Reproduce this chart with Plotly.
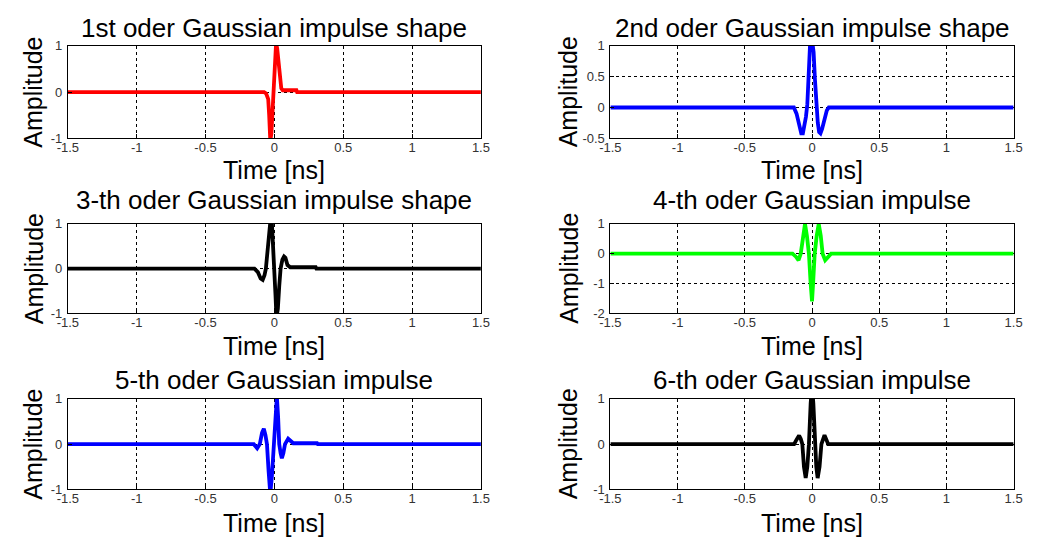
import plotly.graph_objects as go

# ---- data ----
titles = ["1st oder Gaussian impulse shape", "2nd oder Gaussian impulse shape",
          "3-th oder Gaussian impulse shape", "4-th oder Gaussian impulse",
          "5-th oder Gaussian impulse", "6-th oder Gaussian impulse"]
x_ticks = [-1.5, -1, -0.5, 0, 0.5, 1, 1.5]
x_ticklabels = ["-1.5", "-1", "-0.5", "0", "0.5", "1", "1.5"]

t1 = [-1.5, -0.075, -0.06, -0.045, -0.038, -0.03, -0.022, -0.012, -0.005, 0.005, 0.012, 0.02, 0.03, 0.04, 0.05, 0.06, 0.16, 0.165, 1.5]
a1 = [0, 0, -0.03, -0.15, -0.5, -1.05, -0.9, -0.3, 0.2, 0.85, 1.05, 0.95, 0.6, 0.25, 0.08, 0.04, 0.04, 0, 0]

t2 = [-1.5, -0.135, -0.115, -0.095, -0.08, -0.068, -0.055, -0.045, -0.035, -0.025, -0.015, 0.0, 0.012, 0.022, 0.033, 0.043, 0.053, 0.063, 0.075, 0.09, 0.11, 0.125, 1.5]
a2 = [0, 0, -0.1, -0.3, -0.42, -0.42, -0.3, -0.15, 0.05, 0.55, 1.0, 1.1, 0.9, 0.45, 0.0, -0.25, -0.4, -0.42, -0.35, -0.2, -0.05, 0, 0]

t3 = [-1.5, -0.145, -0.12, -0.1, -0.085, -0.072, -0.062, -0.05, -0.038, -0.028, -0.018, -0.008, 0.0, 0.008, 0.015, 0.025, 0.035, 0.045, 0.058, 0.07, 0.08, 0.095, 0.115, 0.3, 0.305, 1.5]
a3 = [0, 0, -0.08, -0.22, -0.25, -0.15, 0.0, 0.35, 0.85, 1.1, 1.0, 0.5, 0.0, -0.6, -1.1, -0.9, -0.4, 0.0, 0.2, 0.27, 0.24, 0.08, 0.03, 0.03, 0, 0]

t4 = [-1.5, -0.145, -0.12, -0.1, -0.084, -0.068, -0.052, -0.038, -0.023, -0.01, 0.0, 0.008, 0.02, 0.035, 0.05, 0.065, 0.079, 0.098, 0.12, 0.142, 1.5]
a4 = [0, 0, -0.1, -0.22, 0.0, 0.6, 1.0, 0.6, 0.0, -1.0, -1.6, -1.0, 0.0, 0.6, 1.0, 0.6, 0.0, -0.22, -0.1, 0, 0]

t5 = [-1.5, -0.15, -0.125, -0.106, -0.09, -0.077, -0.065, -0.054, -0.042, -0.03, -0.018, -0.006, 0.006, 0.018, 0.027, 0.035, 0.045, 0.054, 0.065, 0.077, 0.1, 0.12, 0.137, 0.31, 0.315, 1.5]
a5 = [0, 0, -0.09, 0.0, 0.25, 0.34, 0.2, 0.0, -0.6, -1.1, -0.7, 0.0, 0.7, 1.05, 0.6, 0.0, -0.2, -0.31, -0.2, 0.0, 0.12, 0.06, 0.02, 0.02, 0, 0]

t6 = [-1.5, -0.133, -0.115, -0.096, -0.084, -0.072, -0.06, -0.047, -0.035, -0.023, -0.01, 0.0, 0.01, 0.02, 0.032, 0.042, 0.056, 0.07, 0.082, 0.093, 0.107, 0.12, 1.5]
a6 = [0, 0, 0.1, 0.19, 0.12, 0.0, -0.5, -0.75, -0.5, 0.0, 0.9, 1.3, 0.9, 0.0, -0.5, -0.75, -0.5, 0.0, 0.12, 0.2, 0.1, 0, 0]

y_ranges = [[-1, 1], [-0.5, 1], [-1, 1], [-2, 1], [-1, 1], [-1, 1]]
y_ticks = [[-1, 0, 1], [-0.5, 0, 0.5, 1], [-1, 0, 1], [-2, -1, 0, 1], [-1, 0, 1], [-1, 0, 1]]
y_ticklabels = [["-1", "0", "1"], ["-0.5", "0", "0.5", "1"], ["-1", "0", "1"],
                ["-2", "-1", "0", "1"], ["-1", "0", "1"], ["-1", "0", "1"]]
colors = ["#ff0000", "#0000ff", "#000000", "#00ff00", "#0000ff", "#000000"]

series_t = [t1, t2, t3, t4, t5, t6]
series_a = [a1, a2, a3, a4, a5, a6]

# ---- layout geometry (pixels) ----
W, H = 1054, 546
col_px = [(58, 479), (611, 1022)]
row_px = [(40, 135), (223, 315), (403, 496)]
title_y = [22, 198, 384]
xlabel_y = [168, 349, 531]
ylabel_x = [23, 568]

FONT = "Arial, Liberation Sans, sans-serif"

fig = go.Figure()
annotations = []
for i in range(6):
    r, c = divmod(i, 2)
    n = i + 1
    xa = "x" if n == 1 else f"x{n}"
    ya = "y" if n == 1 else f"y{n}"
    fig.add_trace(go.Scatter(x=series_t[i], y=series_a[i], mode="lines",
                             line=dict(color=colors[i], width=3.8),
                             xaxis=xa, yaxis=ya, showlegend=False,
                             hoverinfo="skip"))
    x0, x1 = col_px[c]
    y0, y1 = row_px[r]
    axis_common = dict(showline=True, linecolor="black", linewidth=1, mirror=True,
                       showgrid=True, gridcolor="black", gridwidth=1, griddash="3px,3px",
                       zeroline=False, ticks="inside", ticklen=4, tickcolor="black",
                       tickfont=dict(family=FONT, size=13, color="#333333"))
    fig.update_layout(**{
        ("xaxis" if n == 1 else f"xaxis{n}"): dict(
            domain=[x0 / W, x1 / W], anchor=ya, range=[-1.5, 1.5],
            tickvals=x_ticks, ticktext=x_ticklabels, ticklabelstandoff=-3, **axis_common),
        ("yaxis" if n == 1 else f"yaxis{n}"): dict(
            domain=[1 - y1 / H, 1 - y0 / H], anchor=xa, range=y_ranges[i],
            tickvals=y_ticks[i], ticktext=y_ticklabels[i], ticklabelstandoff=2, **axis_common),
    })
    cx = (x0 + x1) / 2 / W
    annotations.append(dict(text=titles[i], x=cx, y=1 - title_y[r] / H, xref="paper", yref="paper",
                            xanchor="center", yanchor="middle", showarrow=False,
                            font=dict(family=FONT, size=26, color="black")))
    annotations.append(dict(text="Time [ns]", x=cx, y=1 - xlabel_y[r] / H, xref="paper", yref="paper",
                            xanchor="center", yanchor="middle", showarrow=False,
                            font=dict(family=FONT, size=25, color="black")))
    annotations.append(dict(text="Amplitude", x=ylabel_x[c] / W, y=1 - (y0 + y1) / 2 / H,
                            xref="paper", yref="paper", textangle=-90,
                            xanchor="center", yanchor="middle", showarrow=False,
                            font=dict(family=FONT, size=25, color="black")))

fig.update_layout(width=W, height=H, margin=dict(l=0, r=0, t=0, b=0),
                  paper_bgcolor="white", plot_bgcolor="white",
                  annotations=annotations)
fig.write_html("out.html")
